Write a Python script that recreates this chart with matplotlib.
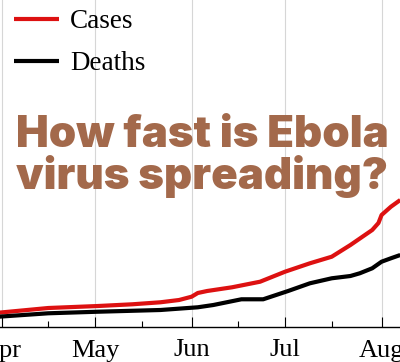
import numpy as np
import matplotlib
matplotlib.use("Agg")
import matplotlib.pyplot as plt
from matplotlib import font_manager as fm

# cumulative counts
case_dates = ["2014-03-31", "2014-04-16", "2014-05-02", "2014-05-13", "2014-05-22",
              "2014-05-28", "2014-06-01", "2014-06-03", "2014-06-06", "2014-06-14",
              "2014-06-23", "2014-07-01", "2014-07-09", "2014-07-16", "2014-07-22",
              "2014-07-29", "2014-07-31", "2014-08-01", "2014-08-04", "2014-08-07"]
cases = [200, 266, 294, 318, 346, 378, 424, 476, 504, 556, 634, 774, 892, 984, 1148,
         1358, 1456, 1568, 1684, 1778]
death_dates = ["2014-03-31", "2014-04-16", "2014-05-02", "2014-05-22", "2014-06-03",
               "2014-06-08", "2014-06-17", "2014-06-24", "2014-07-02", "2014-07-09",
               "2014-07-16", "2014-07-22", "2014-07-25", "2014-07-29", "2014-08-01",
               "2014-08-04", "2014-08-07"]
deaths = [144, 192, 214, 238, 276, 308, 388, 388, 504, 612, 682, 714, 752, 822, 914,
          962, 1008]
month_ticks = ["2014-04-01", "2014-05-01", "2014-06-01", "2014-07-01", "2014-08-01"]
month_labels = ["Apr", "May", "Jun", "Jul", "Aug"]
mid_ticks = ["2014-04-16", "2014-05-16", "2014-06-16", "2014-07-16"]

RED = "#dd1111"
BROWN = "#a3694b"
serif = ["Liberation Serif", "DejaVu Serif"]


def heavy_font(size):
    # heaviest installed sans for the headline
    best = None
    for f in fm.fontManager.ttflist:
        if f.name in ("Lato", "Inter", "Roboto", "Open Sans", "Noto Sans") and f.style == "normal":
            w = f.weight if isinstance(f.weight, int) else fm.weight_dict.get(f.weight, 400)
            if best is None or w > best[1]:
                best = (f.fname, w)
    if best is None:
        return fm.FontProperties(family="DejaVu Sans", weight="bold", size=size)
    return fm.FontProperties(fname=best[0], size=size)


fig = plt.figure(figsize=(4.0, 3.62), dpi=100)
ax = fig.add_axes([0, 35 / 362, 1, 1 - 35 / 362])

cd = np.array(case_dates, dtype="datetime64[D]")
dd = np.array(death_dates, dtype="datetime64[D]")
ax.plot(cd, cases, color=RED, lw=3, label="Cases", solid_capstyle="butt")
ax.plot(dd, deaths, color="black", lw=3, label="Deaths", solid_capstyle="butt")

ax.set_xlim(np.datetime64("2014-03-31T12:00"), np.datetime64("2014-08-06T22:00"))
ax.set_ylim(0, 4578)
ax.set_xticks(np.array(month_ticks, dtype="datetime64[D]"))
ax.set_xticklabels(month_labels, fontsize=19, family=serif)
ax.set_xticks(np.array(mid_ticks, dtype="datetime64[D]"), minor=True)
ax.tick_params(axis="x", which="major", direction="in", length=7, width=0.8, pad=9)
ax.tick_params(axis="x", which="minor", direction="in", length=4, width=0.8)
ax.set_yticks([])
ax.grid(axis="x", which="major", color="#d6d6d6", lw=0.8)
ax.set_axisbelow(True)
for s in ("top", "left", "right"):
    ax.spines[s].set_visible(False)
ax.spines["bottom"].set_linewidth(1.0)

ax.legend(loc="upper left", bbox_to_anchor=(14 / 400, 1 - 9.5 / 327), frameon=False,
          prop={"family": serif, "size": 19.5}, handlelength=1.65, borderpad=0,
          handletextpad=0.43, labelspacing=0.62, borderaxespad=0)

fp = heavy_font(31.5)
fig.text(0.505, 1 - 147 / 362, "How fast is Ebola", ha="center", va="baseline",
         fontproperties=fp, color=BROWN)
fig.text(0.505, 1 - 189 / 362, "virus spreading?", ha="center", va="baseline",
         fontproperties=fp, color=BROWN)

fig.savefig("out.png", dpi=100)
